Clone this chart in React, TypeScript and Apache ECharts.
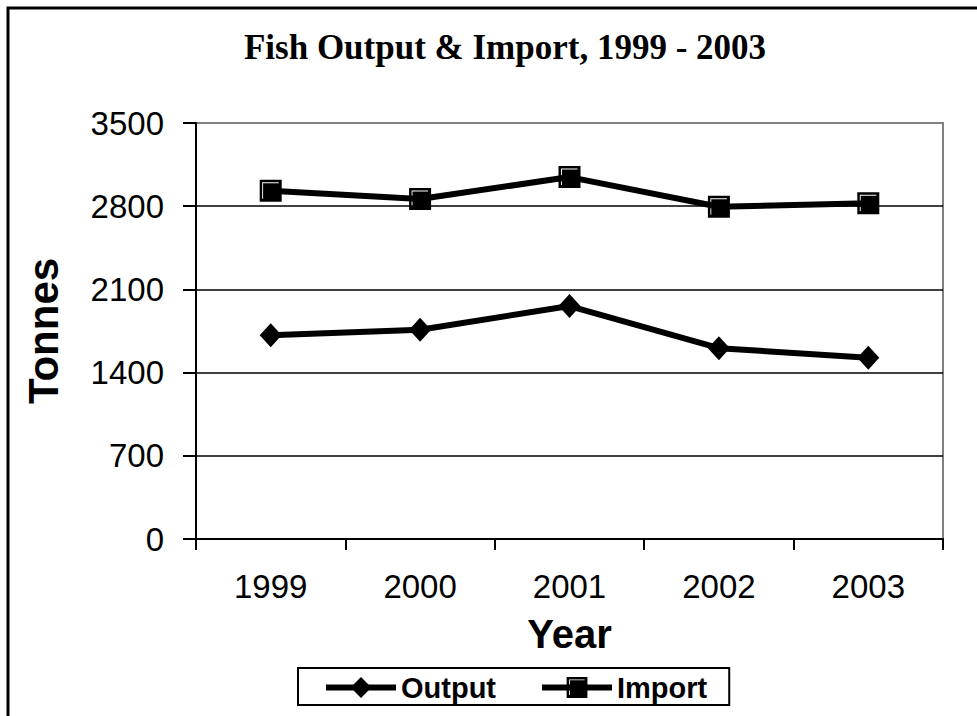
import React, { useEffect, useRef } from "react";
import * as echarts from "echarts";

const years = ["1999", "2000", "2001", "2002", "2003"];
const outputValues = [1715, 1760, 1960, 1605, 1525];
const importValues = [2930, 2860, 3045, 2795, 2825];
const yTicks = { min: 0, max: 3500, interval: 700 };

const squareSymbol =
  "path://M0,0 L22,0 L22,22 L0,22 Z M2.5,2.5 L2.5,19 L3.4,19 L3.4,3.4 L19,3.4 L19,2.5 Z";

export default function App() {
  const ref = useRef<HTMLDivElement>(null);
  useEffect(() => {
    document.body.style.margin = "0";
    const chart = echarts.init(ref.current!, null, { renderer: "svg" });
    chart.setOption({
      animation: false,
      backgroundColor: "#ffffff",
      title: {
        text: "Fish Output & Import, 1999 - 2003",
        left: 500,
        top: 25,
        textAlign: "center",
        textStyle: {
          fontFamily: "Liberation Serif",
          fontWeight: "bold",
          fontSize: 35,
          color: "#000",
        },
      },
      graphic: [
        {
          type: "rect",
          shape: { x: 8, y: 8, width: 1200, height: 1200 },
          style: { fill: "none", stroke: "#000", lineWidth: 3 },
          silent: true,
        },
      ],
      grid: {
        left: 196,
        right: 34,
        top: 123,
        bottom: 177,
        show: true,
        borderColor: "#808080",
        borderWidth: 2,
        backgroundColor: "transparent",
      },
      legend: {
        left: 298,
        top: 668,
        orient: "horizontal",
        borderColor: "#000",
        borderWidth: 2,
        padding: [5, 22, 3, 25],
        itemWidth: 70,
        itemHeight: 26,
        itemGap: 43,
        lineStyle: { color: "#000", width: 6 },
        itemStyle: { color: "#000" },
        textStyle: {
          fontFamily: "Liberation Sans",
          fontWeight: "bold",
          fontSize: 29,
          color: "#000",
        },
        data: ["Output", "Import"],
      },
      xAxis: {
        type: "category",
        data: years,
        boundaryGap: true,
        name: "Year",
        nameLocation: "middle",
        nameGap: 75,
        nameTextStyle: {
          fontFamily: "Liberation Sans",
          fontWeight: "bold",
          fontSize: 40,
          color: "#000",
        },
        axisLine: { lineStyle: { color: "#000", width: 2 } },
        axisTick: { show: true, length: 11, lineStyle: { color: "#000", width: 2 } },
        axisLabel: {
          margin: 31,
          fontFamily: "Liberation Sans",
          fontSize: 33,
          color: "#000",
        },
        splitLine: { show: false },
      },
      yAxis: {
        type: "value",
        min: yTicks.min,
        max: yTicks.max,
        interval: yTicks.interval,
        name: "Tonnes",
        nameLocation: "middle",
        nameGap: 132,
        nameTextStyle: {
          fontFamily: "Liberation Sans",
          fontWeight: "bold",
          fontSize: 42,
          color: "#000",
        },
        axisLine: { show: true, lineStyle: { color: "#000", width: 2 } },
        axisTick: { show: true, length: 13, lineStyle: { color: "#000", width: 2 } },
        axisLabel: {
          margin: 32,
          fontFamily: "Liberation Sans",
          fontSize: 33,
          color: "#000",
          formatter: (v: number) => String(v),
        },
        splitLine: {
          show: true,
          lineStyle: {
            color: ["#000", "#000", "#000", "#000", "#000", "#808080"],
            width: 1.5,
          },
        },
      },
      series: [
        {
          name: "Output",
          type: "line",
          data: outputValues,
          symbol: "diamond",
          symbolSize: [22, 24],
          showAllSymbol: true,
          lineStyle: { color: "#000", width: 6 },
          itemStyle: { color: "#000", borderColor: "#000", borderWidth: 0 },
          emphasis: { disabled: true },
        },
        {
          name: "Import",
          type: "line",
          data: importValues,
          symbol: squareSymbol,
          symbolSize: 22,
          showAllSymbol: true,
          lineStyle: { color: "#000", width: 6 },
          itemStyle: { color: "#000", borderColor: "#000", borderWidth: 0 },
          emphasis: { disabled: true },
        },
      ],
    });
    return () => chart.dispose();
  }, []);
  return <div ref={ref} style={{ width: 977, height: 716 }} />;
}
